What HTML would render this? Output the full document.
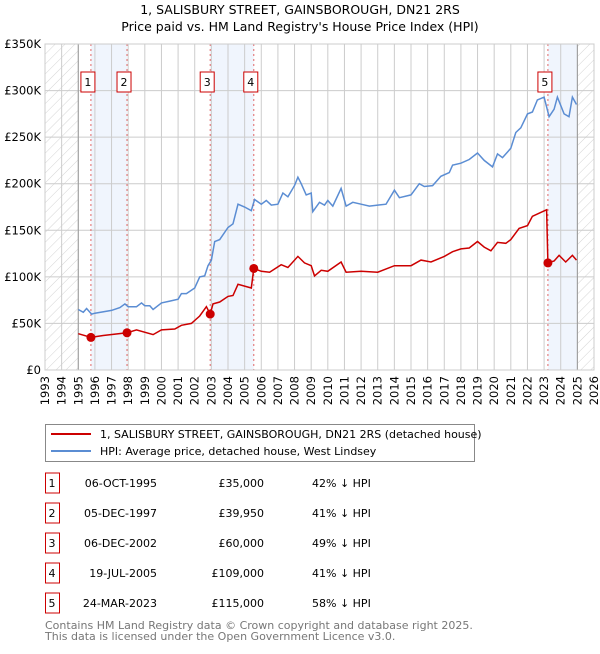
<!DOCTYPE html>
<html><head><meta charset="utf-8"><style>
body{margin:0;background:#fff;width:600px;height:650px;overflow:hidden;font-family:"DejaVu Sans","Liberation Sans",sans-serif;}
svg text{font-family:"DejaVu Sans","Liberation Sans",sans-serif;}
</style></head><body>
<svg id="chart" width="600" height="650" xmlns="http://www.w3.org/2000/svg">
<defs><pattern id="hatch" width="7" height="7" patternUnits="userSpaceOnUse" patternTransform="rotate(45)"><line x1="0" y1="0" x2="0" y2="7" stroke="#d4d4d4" stroke-width="1"/></pattern></defs>
<text x="300" y="14" text-anchor="middle" font-size="12.5">1, SALISBURY STREET, GAINSBOROUGH, DN21 2RS</text>
<text x="300" y="31" text-anchor="middle" font-size="12.5">Price paid vs. HM Land Registry's House Price Index (HPI)</text>
<g id="plot"></g>
<rect x="45.5" y="424.5" width="429" height="37" fill="#fff" stroke="#888"/>
<line x1="51" y1="434" x2="91" y2="434" stroke="#cc0000" stroke-width="2"/>
<text x="100" y="438" font-size="11">1, SALISBURY STREET, GAINSBOROUGH, DN21 2RS (detached house)</text>
<line x1="51" y1="451" x2="91" y2="451" stroke="#5b8dd3" stroke-width="2"/>
<text x="100" y="455" font-size="11">HPI: Average price, detached house, West Lindsey</text>
<g id="table"></g>
<text x="45" y="629" font-size="11" fill="#777">Contains HM Land Registry data © Crown copyright and database right 2025.</text>
<text x="45" y="640" font-size="11" fill="#777">This data is licensed under the Open Government Licence v3.0.</text>
</svg>
<script>
const yearTicks=[1993,1994,1995,1996,1997,1998,1999,2000,2001,2002,2003,2004,2005,2006,2007,2008,2009,2010,2011,2012,2013,2014,2015,2016,2017,2018,2019,2020,2021,2022,2023,2024,2025,2026];
const valueTicks=[0,50000,100000,150000,200000,250000,300000,350000];
const valueTickLabels=["£0","£50K","£100K","£150K","£200K","£250K","£300K","£350K"];
const hpiYears=[1995,1995.3,1995.5,1995.8,1996,1997,1997.5,1997.8,1998,1998.5,1998.8,1999,1999.3,1999.5,2000,2000.5,2001,2001.2,2001.5,2002,2002.3,2002.6,2002.8,2003,2003.2,2003.5,2004,2004.3,2004.6,2005,2005.4,2005.6,2006,2006.3,2006.6,2007,2007.3,2007.6,2008,2008.2,2008.4,2008.7,2009,2009.1,2009.5,2009.8,2010,2010.3,2010.8,2011.1,2011.5,2012,2012.5,2013,2013.5,2014,2014.3,2015,2015.5,2015.8,2016.3,2016.8,2017.3,2017.5,2018,2018.5,2019,2019.4,2019.9,2020.2,2020.5,2021,2021.3,2021.6,2022,2022.3,2022.6,2023,2023.3,2023.6,2023.8,2024.2,2024.5,2024.7,2024.95];
const hpiValues=[65000,62000,66000,60000,61000,64000,67000,71000,68000,68000,72000,69000,69000,65000,72000,74000,76000,82000,82000,88000,100000,101000,112000,118000,138000,140000,153000,157000,178000,175000,171000,183000,178000,182000,177000,178000,190000,186000,198000,207000,200000,188000,190000,170000,180000,177000,182000,176000,195000,176000,180000,178000,176000,177000,178000,193000,185000,188000,200000,197000,198000,208000,212000,220000,222000,226000,233000,225000,218000,232000,228000,238000,255000,260000,275000,277000,290000,293000,272000,280000,293000,275000,272000,293000,285000];
const propYears=[1995,1995.76,1996.5,1997.93,1998.5,1999.5,2000,2000.8,2001.2,2001.8,2002.3,2002.7,2002.93,2003.1,2003.5,2004,2004.3,2004.6,2005.4,2005.55,2006,2006.5,2007.2,2007.6,2008.2,2008.6,2009,2009.2,2009.6,2010,2010.8,2011.1,2012,2013,2014,2015,2015.6,2016.2,2017,2017.5,2018,2018.5,2019,2019.4,2019.8,2020.2,2020.7,2021,2021.5,2022,2022.3,2022.9,2023.15,2023.23,2023.6,2023.9,2024.3,2024.7,2024.95];
const propValues=[39000,35000,37000,39950,43000,38000,43000,44000,48000,50000,58000,68000,60000,71000,73000,79000,80000,92000,88000,109000,106000,105000,113000,110000,122000,115000,112000,101000,107000,106000,116000,105000,106000,105000,112000,112000,118000,116000,122000,127000,130000,131000,138000,132000,128000,137000,136000,140000,152000,155000,165000,170000,172000,115000,117000,123000,116000,123000,118000];
const saleLabels=["1","2","3","4","5"];
const saleYears=[1995.76,1997.93,2002.93,2005.55,2023.23];
const salePrices=[35000,39950,60000,109000,115000];
const saleDates=["06-OCT-1995","05-DEC-1997","06-DEC-2002","19-JUL-2005","24-MAR-2023"];
const salePriceText=["£35,000","£39,950","£60,000","£109,000","£115,000"];
const saleHpiText=["42% ↓ HPI","41% ↓ HPI","49% ↓ HPI","41% ↓ HPI","58% ↓ HPI"];

const X0=45,X1=594,Y0=370,Y1=44;
const xs=y=>X0+(y-1993)/(2026-1993)*(X1-X0);
const ys=v=>Y0-v/350000*(Y0-Y1);
const NS="http://www.w3.org/2000/svg";
const plot=document.getElementById('plot');
function mk(tag,attrs,parent){const e=document.createElementNS(NS,tag);for(const k in attrs)e.setAttribute(k,attrs[k]);(parent||plot).appendChild(e);return e;}

const bands=[[0,1],[2,3],[4,null]];
bands.forEach(b=>{const a=xs(saleYears[b[0]]);const e=b[1]===null?xs(2025):xs(saleYears[b[1]]);
const r=mk('rect',{x:a,y:Y1,width:e-a,height:Y0-Y1,fill:'#f0f5fd'});

});
[[1993,1995],[2025,2026]].forEach(h=>{const r=mk('rect',{x:xs(h[0]),y:Y1,width:xs(h[1])-xs(h[0]),height:Y0-Y1,fill:'url(#hatch)'});

});
yearTicks.forEach(y=>{const l=mk('line',{x1:xs(y),x2:xs(y),y1:Y1,y2:Y0,stroke:'#ccc','stroke-width':1});


const t=mk('text',{x:0,y:0,'font-size':11.5,'text-anchor':'end',transform:`translate(${xs(y)+4},${Y0+6}) rotate(-90)`});
t.textContent=y;

});
valueTicks.forEach((v,i)=>{const l=mk('line',{x1:X0,x2:X1,y1:ys(v),y2:ys(v),stroke:'#ccc','stroke-width':1});


const t=mk('text',{x:X0-4,y:ys(v)+4,'font-size':11.5,'text-anchor':'end'});
t.textContent=valueTickLabels[i];

});
[1995,2025].forEach(y=>{const l=mk('line',{x1:xs(y),x2:xs(y),y1:Y1,y2:Y0,stroke:'#999','stroke-width':1});

});
saleYears.forEach((y,i)=>{const l=mk('line',{x1:xs(y),x2:xs(y),y1:Y1,y2:Y0,stroke:'#e06666','stroke-width':1,'stroke-dasharray':'2,3'});


const bx=xs(y)-10;
const r=mk('rect',{x:bx,y:72,width:14,height:20,fill:'#fff',stroke:'#cc0000'});


const t=mk('text',{x:bx+7,y:86,'font-size':11,'text-anchor':'middle'});
t.textContent=saleLabels[i];

});
function path(xv,yv){return xv.map((x,i)=>(i?'L':'M')+xs(x).toFixed(1)+','+ys(yv[i]).toFixed(1)).join('');}
const hp=mk('path',{d:path(hpiYears,hpiValues),fill:'none',stroke:'#5b8dd3','stroke-width':1.5});


const pp=mk('path',{d:path(propYears,propValues),fill:'none',stroke:'#cc0000','stroke-width':1.5});


saleYears.forEach((y,i)=>{const c=mk('circle',{cx:xs(y),cy:ys(salePrices[i]),r:4.5,fill:'#cc0000'});

});
const fr=mk('rect',{x:X0,y:Y1,width:X1-X0,height:Y0-Y1,fill:'none',stroke:'#ccc'});


const tb=document.getElementById('table');
saleLabels.forEach((s,i)=>{const cy=483+i*30;
const r=mk('rect',{x:45.5,y:cy-10,width:14,height:20,fill:'#fff',stroke:'#cc0000'},tb);


const cells=[[52,s,'middle'],[157,saleDates[i],'end'],[264,salePriceText[i],'end'],[312,saleHpiText[i],'start']];
cells.forEach((c,j)=>{const t=mk('text',{x:c[0],y:cy+4,'font-size':11,'text-anchor':c[2]},tb);
t.textContent=c[1];

});});
</script>
</body></html>
